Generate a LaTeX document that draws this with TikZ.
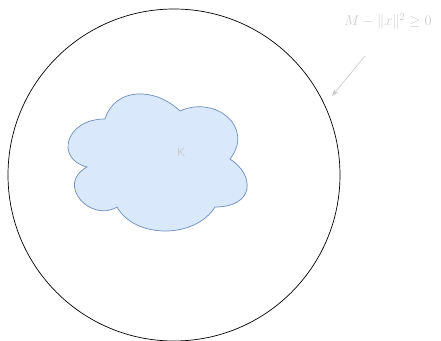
\documentclass[tikz,border=0pt]{standalone}
\usepackage{fontspec}
\newfontfamily\labelfont{Liberation Sans}
\usepackage{amsmath,amssymb}
\usetikzlibrary{arrows.meta, positioning}
\definecolor{cloudfill}{HTML}{DAE8FC}
\definecolor{clouddraw}{HTML}{6C8EBF}
\definecolor{faintgray}{HTML}{CCCCCC}

\begin{document}
\begin{tikzpicture}[x=1pt, y=-1pt,
    ball/.style={draw=black, line width=0.7pt},
    cloudy/.style={draw=clouddraw, fill=cloudfill, line width=0.7pt},
    hint/.style={text=faintgray, font=\fontsize{15}{17}\selectfont},
    setname/.style={text=faintgray, font=\labelfont\fontsize{12}{14}\selectfont},
    pointer/.style={-{Stealth[length=7pt, width=5pt]}, draw=faintgray, line width=0.7pt}
]
    \useasboundingbox (0,0) rectangle (441,340);

    % --- Outer ball ---
    \draw[ball] (174,175) circle[radius=166];

    % --- Cloud (the set K) ---
    \begin{scope}[shift={(55,79)}, x=200pt, y=-160pt]
        \draw[cloudy] (0.25,0.25)
            .. controls (0.05,0.25) and (0,0.5) .. (0.16,0.55)
            .. controls (0,0.66) and (0.18,0.9) .. (0.31,0.8)
            .. controls (0.4,1) and (0.7,1) .. (0.8,0.8)
            .. controls (1,0.8) and (1,0.6) .. (0.875,0.5)
            .. controls (1,0.3) and (0.8,0.1) .. (0.625,0.2)
            .. controls (0.5,0.05) and (0.3,0.05) .. (0.25,0.25) -- cycle;
    \end{scope}
    \node[setname] (kset) at (181,152) {K};

    % --- Constraint label ---
    \node[hint] (constraint) at (388,21) {$M-\|x\|^2\geq 0$};
    \coordinate (tail) at (365,56);
    \coordinate (tip) at (332,96);
    \draw[pointer] (tail) -- (tip);
\end{tikzpicture}
\end{document}
